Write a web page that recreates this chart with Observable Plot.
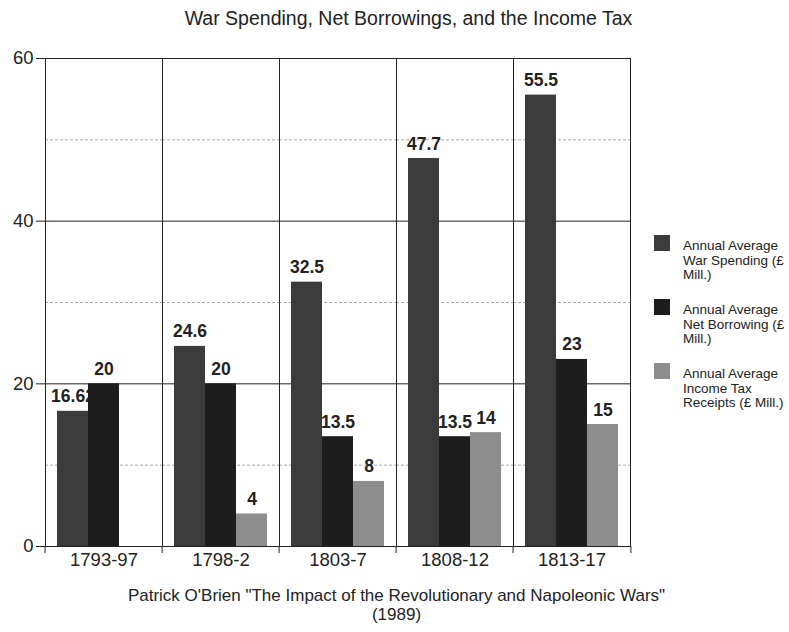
<!DOCTYPE html>
<html><head><meta charset="utf-8">
<script src="https://cdn.jsdelivr.net/npm/d3@7"></script>
<script src="https://cdn.jsdelivr.net/npm/@observablehq/plot@0.6"></script>
<style>
body{margin:0;background:#fff;font-family:"Liberation Sans",Arial,sans-serif;}
#wrap{position:relative;width:789px;height:632px;overflow:hidden;background:#fff}
#title{position:absolute;top:7px;left:14px;width:789px;text-align:center;font-size:19.5px;line-height:22px;color:#222;white-space:nowrap}
#chart{position:absolute;top:40px;left:0}
#legend{position:absolute;left:654px;top:235px;}
.item{display:flex;height:64px}
.sw{width:16px;height:16px;margin-right:13px;margin-top:0px;flex:none}
.lab{font-size:13.5px;line-height:14.5px;width:108px;color:#222;padding-top:4px}
#caption{position:absolute;top:586px;left:2px;width:789px;text-align:center;font-size:17px;line-height:19px;color:#222}
</style></head>
<body>
<div id="wrap">
<div id="title"></div>
<div id="chart"></div>
<div id="legend"></div>
<div id="caption"></div>
</div>
<script>
const titleText = "War Spending, Net Borrowings, and the Income Tax";
const captionLines = ["Patrick O'Brien \"The Impact of the Revolutionary and Napoleonic Wars\"", "(1989)"];
const periods = ["1793-97","1798-2","1803-7","1808-12","1813-17"];
const seriesNames = ["War Spending","Net Borrowing","Income Tax"];
const legendLabels = ["Annual Average War Spending (£ Mill.)","Annual Average Net Borrowing (£ Mill.)","Annual Average Income Tax Receipts (£ Mill.)"];
const warSpending = [16.62,24.6,32.5,47.7,55.5];
const netBorrowing = [20,20,13.5,13.5,23];
const incomeTax = [null,4,8,14,15];
const colors = ["#3b3b3b","#1d1d1d","#8d8d8d"];
const yTicks = [0,20,40,60];
const yMinor = [10,30,50];

const rows = [];
periods.forEach((p,i)=>{
  [warSpending,netBorrowing,incomeTax].forEach((arr,j)=>{
    if(arr[i]!=null) rows.push({period:p, series:seriesNames[j], value:arr[i]});
  });
});

document.getElementById("title").textContent = titleText;
document.getElementById("caption").innerHTML = captionLines.map(s=>s.replace(/&/g,"&amp;").replace(/</g,"&lt;")).join("<br>");
const leg = document.getElementById("legend");
seriesNames.forEach((s,j)=>{
  const it = document.createElement("div"); it.className="item";
  const sw = document.createElement("div"); sw.className="sw"; sw.style.background=colors[j];
  const lab = document.createElement("div"); lab.className="lab"; lab.textContent=legendLabels[j];
  it.appendChild(sw); it.appendChild(lab); leg.appendChild(it);
});

const W = 789, ML = 43, MR = 157;
const step = (W-ML-MR)/periods.length;
const chart = Plot.plot({
  width: W, height: 540, marginTop: 18, marginLeft: ML, marginRight: MR, marginBottom: 34,
  style: {fontFamily:"'Liberation Sans',Arial,sans-serif", fontSize:"18px", color:"#222", background:"transparent", overflow:"visible"},
  fx: {domain: periods, padding: 0, label: null, axis: null},
  x: {domain: seriesNames, paddingInner: 0, paddingOuter: 0.36, align: 0.5, axis: null},
  y: {domain: [0,60], label: null, axis: null},
  color: {domain: seriesNames, range: colors},
  marks: [
    Plot.ruleY(yMinor, {stroke:"#aaa", strokeDasharray:"3,2"}),
    Plot.ruleY(yTicks, {stroke:"#222"}),
    Plot.text(rows, {fx:"period", x:"series", y:"value", text:d=>String(d.value), lineAnchor:"bottom", dy:-9, fontWeight:"bold", fontSize:17.5, fill:"#222"}),
    Plot.barY(rows, {fx:"period", x:"series", y:"value", fill:"series"}),
    Plot.frame({stroke:"#222"}),
    Plot.axisY({ticks: yTicks, tickSize: 9, tickPadding: 3, fontSize: 18.5, label: null, anchor: "left"}),
    Plot.axisFx({anchor: "bottom", tickSize: 0, tickPadding: 6, fontSize: 18.5, label: null}),
    Plot.axisFx({anchor: "bottom", tickSize: 7, dx: -step/2, tickFormat: () => "", label: null}),
    Plot.axisFx({anchor: "bottom", ticks: periods.slice(-1), tickSize: 7, dx: step/2, tickFormat: () => "", label: null})
  ]
});
document.getElementById("chart").appendChild(chart);
</script>
</body></html>
